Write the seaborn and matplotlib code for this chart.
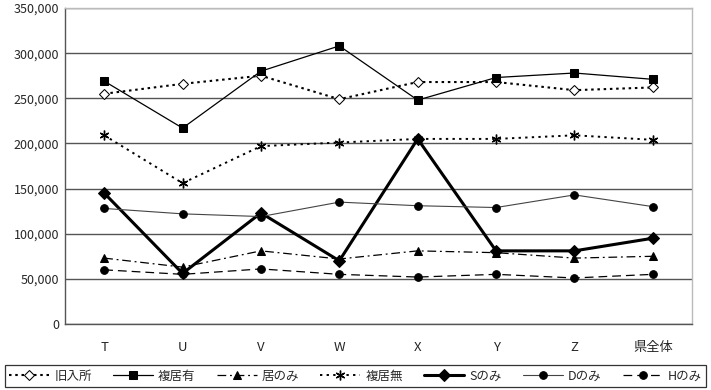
import matplotlib
matplotlib.use("Agg")
import matplotlib.pyplot as plt
import matplotlib.ticker as mticker
import pandas as pd
import seaborn as sns

categories = ["T", "U", "V", "W", "X", "Y", "Z", "県全体"]

kyu_nyusho = [255000, 266000, 275000, 249000, 268000, 268000, 259000, 262000]
fuku_kyo_ari = [269000, 217000, 280000, 308000, 248000, 273000, 278000, 271000]
kyo_nomi = [73000, 63000, 81000, 72000, 81000, 79000, 73000, 75000]
fuku_kyo_nashi = [209000, 156000, 197000, 201000, 205000, 205000, 209000, 204000]
s_nomi = [145000, 56000, 123000, 70000, 205000, 81000, 81000, 95000]
d_nomi = [128000, 122000, 119000, 135000, 131000, 129000, 143000, 130000]
h_nomi = [60000, 55000, 61000, 55000, 52000, 55000, 51000, 55000]

series_names = ["旧入所", "複居有", "居のみ", "複居無", "Sのみ", "Dのみ", "Hのみ"]
series_values = [kyu_nyusho, fuku_kyo_ari, kyo_nomi, fuku_kyo_nashi, s_nomi, d_nomi, h_nomi]

styles = {
    "旧入所": dict(marker="D", markersize=5, markerfacecolor="white", markeredgecolor="black",
                linestyle=(0, (1.2, 1.8)), linewidth=1.5, color="black"),
    "複居有": dict(marker="s", markersize=5.5, markerfacecolor="black", markeredgecolor="black",
                linestyle="-", linewidth=0.9, color="black"),
    "居のみ": dict(marker="^", markersize=6, markerfacecolor="black", markeredgecolor="black",
                linestyle=(0, (7, 3, 1.5, 3)), linewidth=0.9, color="black"),
    "複居無": dict(marker=(6, 2, 0), markersize=7, markeredgecolor="black", markeredgewidth=1.0,
                linestyle=(0, (1.2, 2.2)), linewidth=1.4, color="black"),
    "Sのみ": dict(marker="D", markersize=6.5, markerfacecolor="black", markeredgecolor="black",
                linestyle="-", linewidth=2.2, color="black"),
    "Dのみ": dict(marker="o", markersize=5.5, markerfacecolor="black", markeredgecolor="black",
                linestyle="-", linewidth=0.8, color="#444444"),
    "Hのみ": dict(marker="o", markersize=5.5, markerfacecolor="black", markeredgecolor="black",
                linestyle=(0, (7, 4)), linewidth=0.9, color="black"),
}

sns.set_theme(style="white")
plt.rcParams["font.family"] = ["Noto Sans CJK JP", "DejaVu Sans"]

fig = plt.figure(figsize=(7.11, 3.90), dpi=100)
ax = fig.add_axes([65 / 711, 1 - 324 / 390, 627 / 711, 316 / 390])

pos = list(range(len(categories)))
for name, vals in zip(series_names, series_values):
    df = pd.DataFrame({"pos": pos, "value": vals})
    sns.lineplot(data=df, x="pos", y="value", ax=ax, label=name, **styles[name])

ax.set_xlim(-0.5, len(categories) - 0.5)
ax.set_ylim(0, 350000)
ax.yaxis.set_major_locator(mticker.MultipleLocator(50000))
ax.yaxis.set_major_formatter(mticker.FuncFormatter(lambda v, p: f"{int(v):,}"))
ax.set_xticks(pos)
ax.set_xticklabels(categories)
ax.set_xticks([i + 0.5 for i in range(-1, len(categories))], minor=True)
ax.tick_params(axis="x", which="major", length=0, pad=12, labelsize=9.5)
ax.tick_params(axis="x", which="minor", length=5, width=1, color="#555555", direction="out")
ax.tick_params(axis="y", length=0, labelsize=9, pad=4)
ax.set_xlabel("")
ax.set_ylabel("")

ax.grid(axis="y", color="#555555", linewidth=1)
ax.grid(axis="x", visible=False)
ax.set_axisbelow(True)
ax.spines["left"].set_color("#555555")
ax.spines["bottom"].set_color("#555555")
ax.spines["top"].set_color("#bbbbbb")
ax.spines["right"].set_color("#bbbbbb")
for s in ax.spines.values():
    s.set_linewidth(1)

ax.get_legend().remove()
handles, labels = ax.get_legend_handles_labels()
leg = fig.legend(handles, labels, loc="lower left",
                 bbox_to_anchor=(5 / 711, 1 - 387 / 390, 701 / 711, 28 / 390),
                 mode="expand", ncol=7, frameon=True, fancybox=False, edgecolor="black",
                 fontsize=9, handlelength=3.2, handletextpad=0.4, columnspacing=0.6,
                 borderpad=0.35, borderaxespad=0)
leg.get_frame().set_linewidth(0.9)

fig.savefig("out.png", dpi=100)
